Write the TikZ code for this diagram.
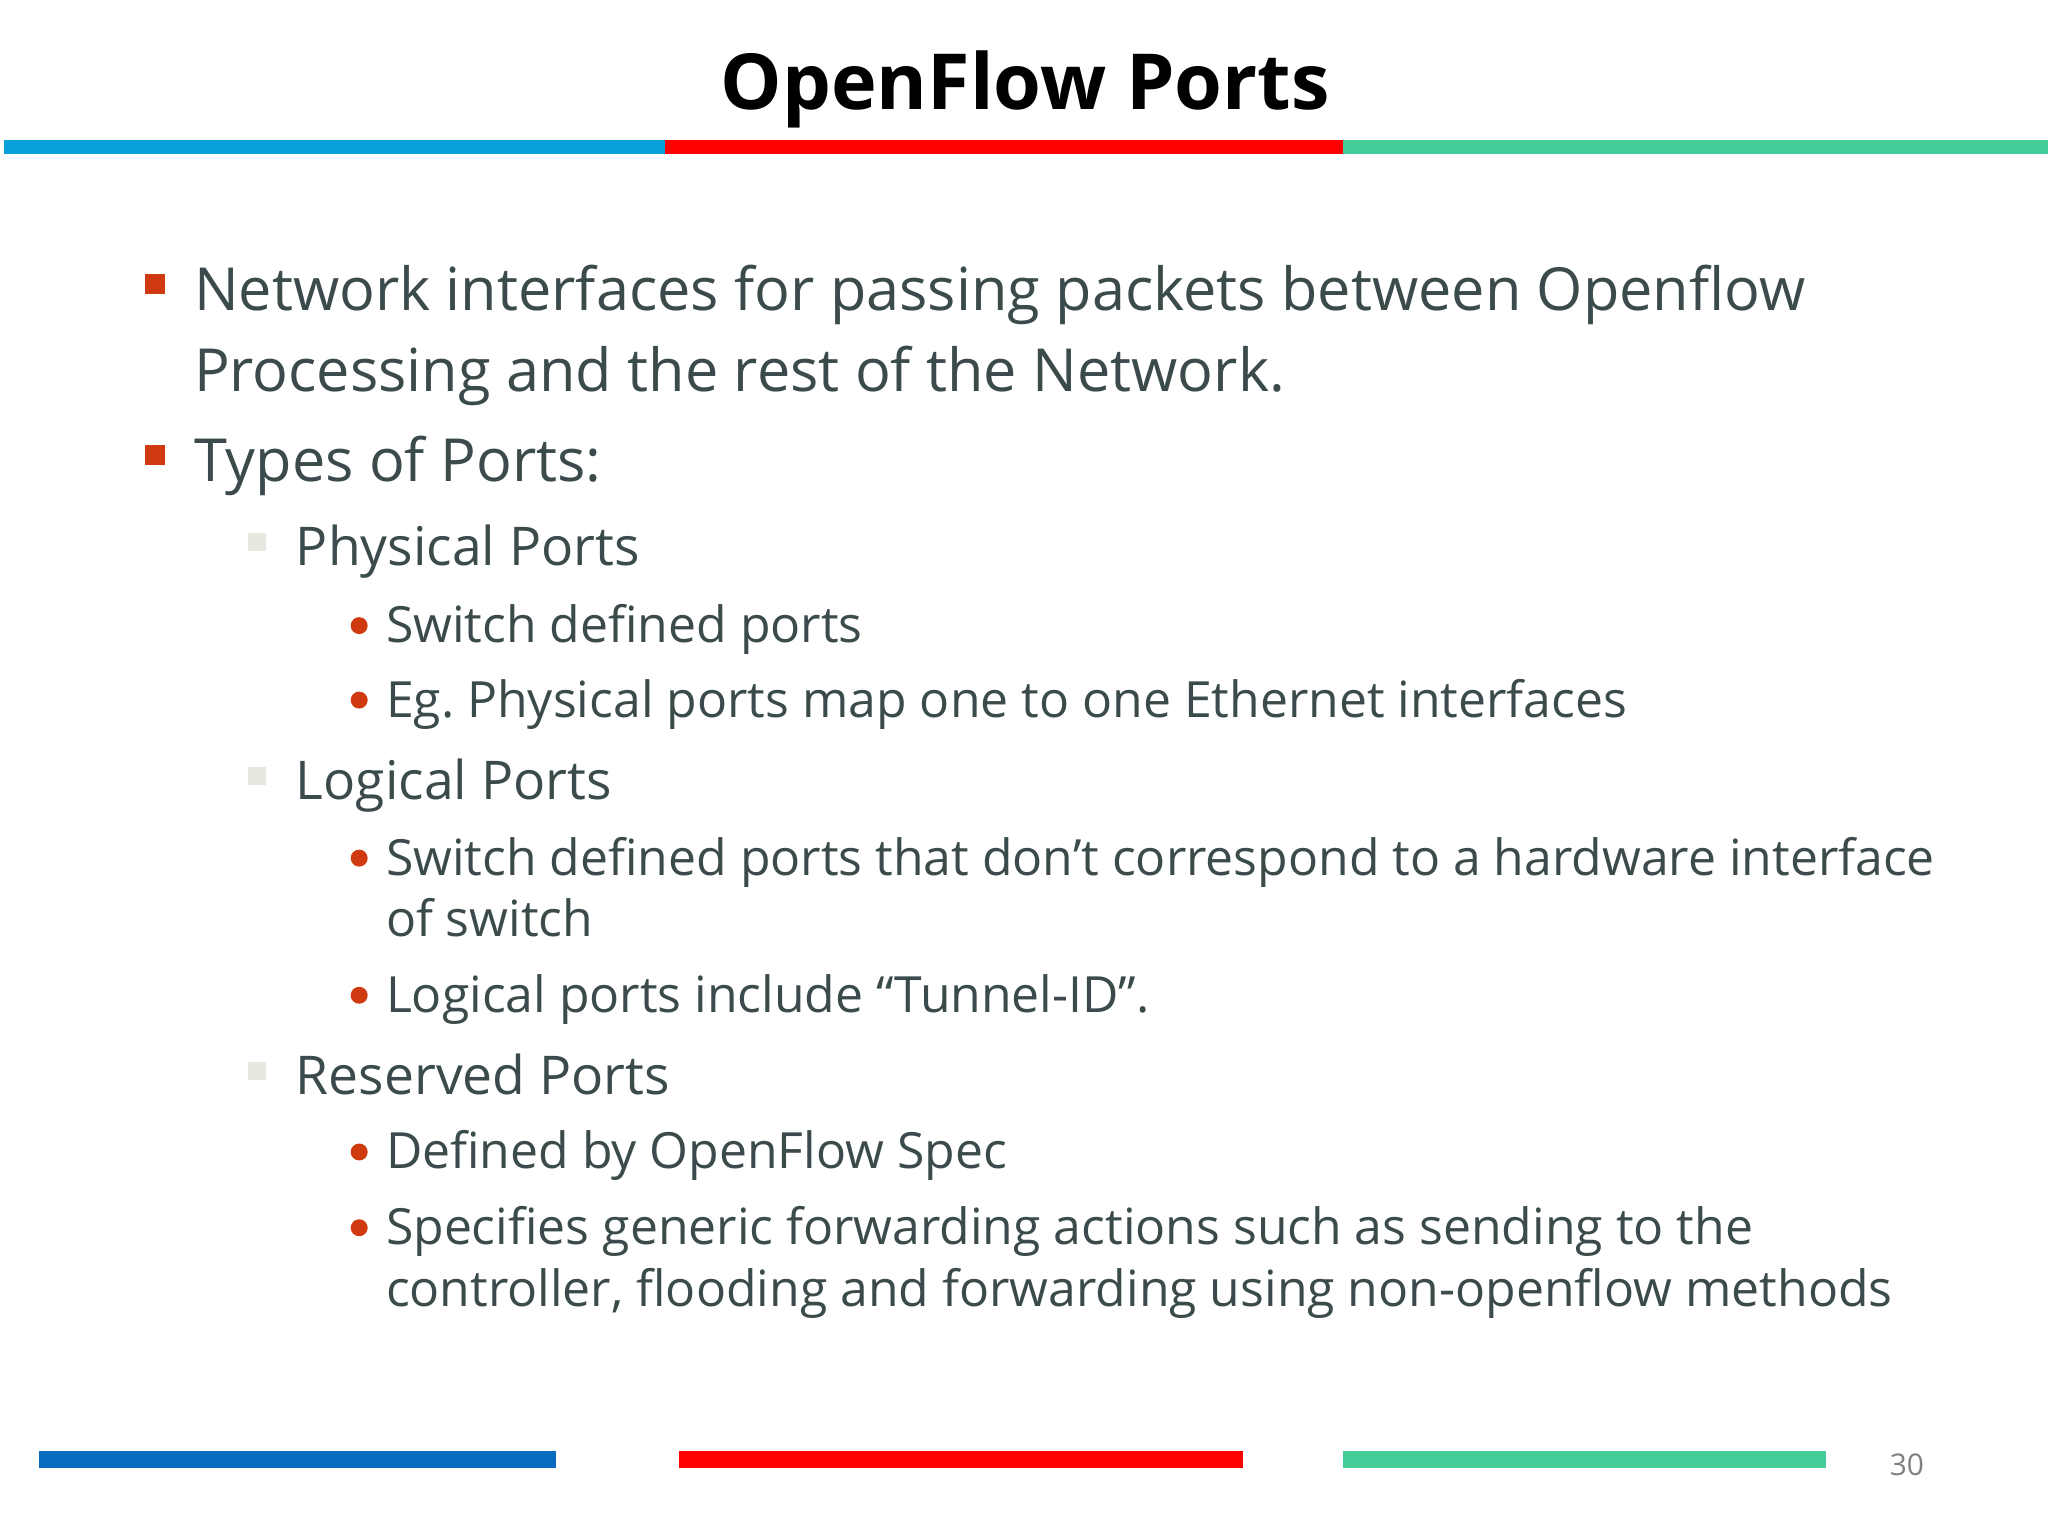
\documentclass[tikz,border=0pt]{standalone}
\usepackage{fontspec}
\setmainfont{Open Sans}
\frenchspacing
\definecolor{txt}{HTML}{3B4A4A}
\definecolor{bred}{HTML}{D03A10}
\definecolor{bgray}{HTML}{E8E8E0}
\definecolor{lblue}{HTML}{0AA0DC}
\definecolor{lred}{HTML}{FF0000}
\definecolor{lgreen}{HTML}{44CC99}
\definecolor{dblue}{HTML}{0A6CC0}
\begin{document}
\begin{tikzpicture}[x=0.01306cm,y=-0.01306cm,
 l1/.style={anchor=base west,inner sep=0,text=txt,font=\fontsize{16.9}{19}\selectfont},
 l2/.style={anchor=base west,inner sep=0,text=txt,font=\fontsize{15.2}{18}\selectfont},
 l3/.style={anchor=base west,inner sep=0,text=txt,font=\fontsize{14.2}{17}\selectfont},
 sq/.style={fill=bred},
 gsq/.style={fill=bgray},
 dot/.style={fill=bred}]
\useasboundingbox (0,0) rectangle (1568,1176);
\node[anchor=base,inner sep=0,font=\bfseries\fontsize{22}{25}\selectfont] (title) at (785,84) {OpenFlow Ports};
\fill[lblue] (3,107) rectangle (509,118);
\fill[lred] (509,107) rectangle (1028,118);
\fill[lgreen] (1028,107) rectangle (1568,118);
\fill[dblue] (30,1111) rectangle (426,1124);
\fill[lred] (520,1111) rectangle (952,1124);
\fill[lgreen] (1028,1111) rectangle (1398,1124);
\node[anchor=base,inner sep=0,text=gray,font=\fontsize{8.5}{10}\selectfont] (pg) at (1460,1130) {30};
% level 1
\fill[sq] (111,210) rectangle (126,225);
\node[l1] (a1) at (148,238) {Network interfaces for passing packets between Openflow};
\node[l1] (a2) at (148,300) {Processing and the rest of the Network.};
\fill[sq] (111,341) rectangle (126,356);
\node[l1] (b1) at (148,369) {Types of Ports:};
% level 2
\fill[gsq] (190,408) rectangle (204,422);
\node[l2] (p) at (226,433) {Physical Ports};
\fill[gsq] (190,587) rectangle (204,601);
\node[l2] (lg) at (226,612) {Logical Ports};
\fill[gsq] (190,813) rectangle (204,827);
\node[l2] (r) at (226,838) {Reserved Ports};
% level 3
\foreach \y in {479,536,657,762,882,940} \fill[dot] (275,\y) circle (6.5);
\node[l3] (p1) at (295,492) {Switch defined ports};
\node[l3] (p2) at (295,549) {Eg. Physical ports map one to one Ethernet interfaces};
\node[l3] (l1) at (295,670) {Switch defined ports that don’t correspond to a hardware interface};
\node[l3] (l2) at (295,717) {of switch};
\node[l3] (l3) at (295,775) {Logical ports include “Tunnel-ID”.};
\node[l3] (r1) at (295,895) {Defined by OpenFlow Spec};
\node[l3] (r2) at (295,953) {Specifies generic forwarding actions such as sending to the};
\node[l3] (r3) at (295,1000) {controller, flooding and forwarding using non-openflow methods};
\end{tikzpicture}
\end{document}
